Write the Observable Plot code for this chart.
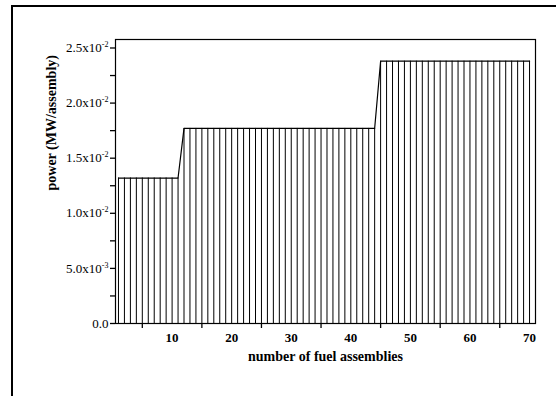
<!DOCTYPE html>
<html>
<head>
<meta charset="utf-8">
<script src="https://cdn.jsdelivr.net/npm/d3@7"></script>
<script src="https://cdn.jsdelivr.net/npm/@observablehq/plot@0.6"></script>
<style>
  html, body { margin: 0; padding: 0; background: #fff; }
  #chart { position: relative; width: 556px; height: 396px; overflow: hidden; }
</style>
</head>
<body>
<div id="chart"></div>
<script>
// Assembly numbers (x) and power per assembly in MW (y)
const assemblies = [
  1, 2, 3, 4, 5, 6, 7, 8, 9, 10,
  11, 12, 13, 14, 15, 16, 17, 18, 19, 20,
  21, 22, 23, 24, 25, 26, 27, 28, 29, 30,
  31, 32, 33, 34, 35, 36, 37, 38, 39, 40,
  41, 42, 43, 44, 45, 46, 47, 48, 49, 50,
  51, 52, 53, 54, 55, 56, 57, 58, 59, 60,
  61, 62, 63, 64, 65, 66, 67, 68, 69, 70
];
const power = [
  0.0132, 0.0132, 0.0132, 0.0132, 0.0132, 0.0132, 0.0132, 0.0132, 0.0132, 0.0132,
  0.0132, 0.0177, 0.0177, 0.0177, 0.0177, 0.0177, 0.0177, 0.0177, 0.0177, 0.0177,
  0.0177, 0.0177, 0.0177, 0.0177, 0.0177, 0.0177, 0.0177, 0.0177, 0.0177, 0.0177,
  0.0177, 0.0177, 0.0177, 0.0177, 0.0177, 0.0177, 0.0177, 0.0177, 0.0177, 0.0177,
  0.0177, 0.0177, 0.0177, 0.0177, 0.0238, 0.0238, 0.0238, 0.0238, 0.0238, 0.0238,
  0.0238, 0.0238, 0.0238, 0.0238, 0.0238, 0.0238, 0.0238, 0.0238, 0.0238, 0.0238,
  0.0238, 0.0238, 0.0238, 0.0238, 0.0238, 0.0238, 0.0238, 0.0238, 0.0238, 0.0238
];
// Axis ticks and labels
const xTickMarks = [5, 15, 25, 35, 45, 55, 65];
const xTickLabels = [10, 20, 30, 40, 50, 60, 70];
const yTicks = [0, 0.0025, 0.005, 0.0075, 0.01, 0.0125, 0.015, 0.0175, 0.02, 0.0225, 0.025];
const yLabelValues = [0, 0.005, 0.01, 0.015, 0.02, 0.025];
const yLabelTexts = ["0.0", "5.0x10^-3", "1.0x10^-2", "1.5x10^-2", "2.0x10^-2", "2.5x10^-2"];
const xTitle = "number of fuel assemblies";
const yTitle = "power (MW/assembly)";

const data = assemblies.map((a, i) => ({assembly: a, power: power[i]}));
const font = "'Liberation Serif', 'Times New Roman', serif";

function yFormat(v) {
  const i = yLabelValues.findIndex(d => Math.abs(d - v) < 1e-9);
  return i >= 0 ? yLabelTexts[i] : "";
}

const chart = Plot.plot({
  width: 556,
  height: 396,
  marginLeft: 115,
  marginRight: 21,
  marginTop: 39,
  marginBottom: 73,
  style: {fontFamily: font, color: "#000", background: "#fff"},
  x: {type: "linear", domain: [0.5, 71]},
  y: {type: "linear", domain: [0, 0.02577]},
  marks: [
    Plot.ruleX(data, {x: "assembly", y1: 0, y2: "power", stroke: "#000", strokeWidth: 1}),
    Plot.line(data, {x: "assembly", y: "power", stroke: "#000", strokeWidth: 1.2}),
    Plot.frame({stroke: "#000", strokeWidth: 1.2}),
    Plot.axisX({ticks: xTickMarks, tickSize: 5, tickFormat: () => "", stroke: "#000", strokeWidth: 1.3, label: null}),
    Plot.axisX({ticks: xTickLabels, tickSize: 0, tickPadding: 9, tickFormat: d => String(d),
      fontSize: 13, fontWeight: "bold", fill: "#000", label: null}),
    Plot.axisY({ticks: yTicks, tickSize: 5, tickPadding: 2, tickFormat: yFormat,
      fontSize: 13, fill: "#000", stroke: "#000", strokeWidth: 1.3, label: null}),
    Plot.text([xTitle], {frameAnchor: "bottom", dy: 33, text: d => d, fontSize: 14,
      fontWeight: "bold", fill: "#000", lineAnchor: "middle"}),
    Plot.text([yTitle], {frameAnchor: "left", dx: -63.5, dy: 9, rotate: -90, text: d => d,
      fontSize: 14, fontWeight: "bold", fill: "#000", lineAnchor: "middle"})
  ]
});

// Turn "a^b" tick labels into a superscript exponent
d3.select(chart).selectAll("text").each(function() {
  const t = this.textContent;
  if (t && t.includes("^")) {
    const [base, exp] = t.split("^");
    const sel = d3.select(this);
    sel.text(null);
    sel.append("tspan").text(base);
    sel.append("tspan").attr("dy", "-5").attr("font-size", "8px").text(exp);
  }
});

// Outer figure border (left and top edges visible)
d3.select(chart).append("path")
  .attr("d", "M12,396V6H556")
  .attr("fill", "none")
  .attr("stroke", "#000")
  .attr("stroke-width", 2);

document.getElementById("chart").appendChild(chart);
</script>
</body>
</html>
